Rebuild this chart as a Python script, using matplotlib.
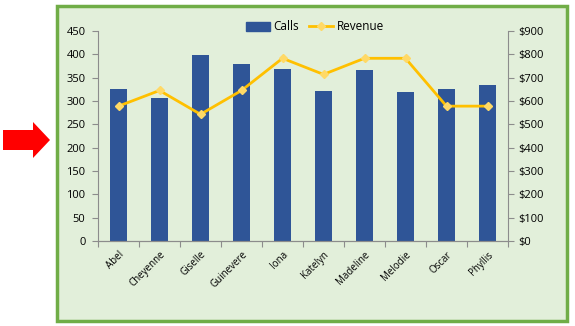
import matplotlib.pyplot as plt
import matplotlib.patches as mpatches
import matplotlib.lines as mlines
from matplotlib.ticker import FuncFormatter

names = ['Abel', 'Cheyenne', 'Giselle', 'Guinevere', 'Iona',
         'Katelyn', 'Madeline', 'Melodie', 'Oscar', 'Phyllis']
calls = [326, 306, 399, 379, 369, 321, 366, 319, 326, 334]
revenue = [578, 645, 543, 645, 783, 714, 783, 783, 578, 578]

plt.rcParams['font.family'] = ['Open Sans', 'DejaVu Sans']
plt.rcParams['font.size'] = 8

bar_col = '#2F5597'
line_col = '#FFC000'
bg = '#E2EFDA'
axis_col = '#8C8C8C'

fig = plt.figure(figsize=(5.75, 3.26), dpi=100)

# green chart frame
frame = mpatches.Rectangle((57 / 575, 1 - 321 / 326), 510 / 575, 315 / 326,
                           transform=fig.transFigure, facecolor=bg,
                           edgecolor='#70AD47', linewidth=2.5, zorder=-5)
fig.patches.append(frame)

# red arrow on the left
arrow = mpatches.FancyArrow(3 / 575, 1 - 140 / 326, 30 / 575, 0,
                            width=20 / 326, head_width=36 / 326,
                            head_length=17 / 575, length_includes_head=False,
                            transform=fig.transFigure, color='#FF0000', linewidth=0)
fig.patches.append(arrow)

ax1 = fig.add_axes([98 / 575, 1 - 241 / 326, 410 / 575, 210 / 326])
ax1.patch.set_alpha(0)
x = range(len(names))
ax1.bar(x, calls, width=0.4, color=bar_col, zorder=2)
ax1.set_ylim(0, 450)
ax1.set_yticks(range(0, 451, 50))
ax1.set_xlim(-0.5, len(names) - 0.5)
ax1.set_xticks([i - 0.5 for i in range(len(names) + 1)])
ax1.set_xticklabels([])
ax1.set_xticks(list(x), minor=True)
ax1.set_xticklabels(names, minor=True, rotation=45, ha='right',
                    rotation_mode='anchor', fontsize=7)
ax1.tick_params(axis='x', which='minor', length=0, pad=6)
ax1.tick_params(axis='x', which='major', length=4, color=axis_col)
ax1.tick_params(axis='y', length=4, color=axis_col, pad=5)

ax2 = ax1.twinx()
ax2.plot(x, revenue, color=line_col, linewidth=2, marker='D', markersize=4,
         markerfacecolor='#FFD966', markeredgecolor='#FFD966', zorder=3)
ax2.set_ylim(0, 900)
ax2.set_yticks(range(0, 901, 100))
ax2.yaxis.set_major_formatter(FuncFormatter(lambda v, p: '${:d}'.format(int(v))))
ax2.tick_params(axis='y', length=4, color=axis_col)

for a in (ax1, ax2):
    a.spines['top'].set_visible(False)
    a.spines['left'].set_color(axis_col)
    a.spines['right'].set_color(axis_col)
    a.spines['bottom'].set_color(axis_col)
ax1.spines['right'].set_visible(False)
ax2.spines['left'].set_visible(False)

h1 = mpatches.Patch(color=bar_col, label='Calls')
h2 = mlines.Line2D([], [], color=line_col, linewidth=2, marker='D', markersize=4,
                   markerfacecolor='#FFD966', markeredgecolor='#FFD966', label='Revenue')
fig.legend(handles=[h1, h2], loc='center', bbox_to_anchor=(315 / 575, 1 - 27 / 326),
           ncol=2, frameon=False, handlelength=2.0, columnspacing=0.9,
           handletextpad=0.3, fontsize=8.5)

fig.savefig('out.png', dpi=100)
